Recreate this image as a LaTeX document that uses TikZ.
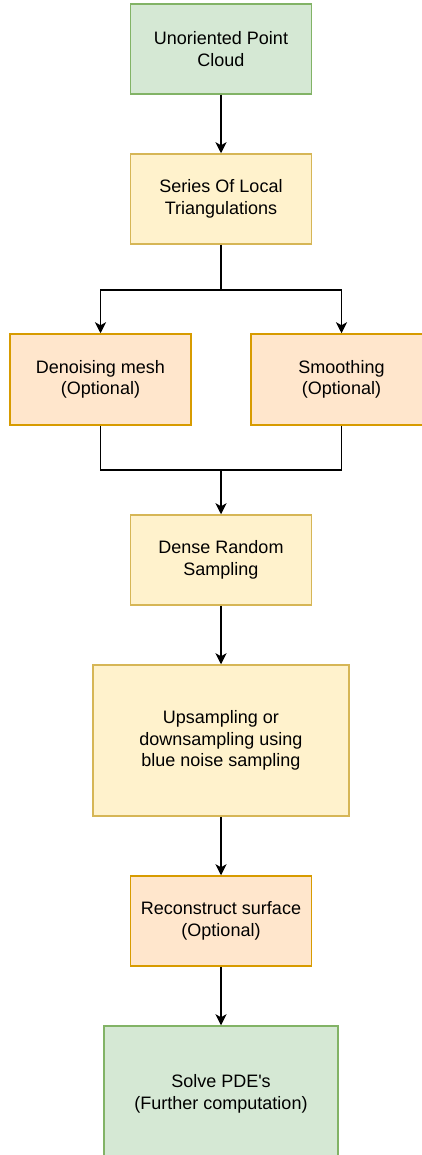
\documentclass[tikz,border=0pt]{standalone}
\usepackage{fontspec}
\setmainfont{Liberation Sans}
\usetikzlibrary{arrows.meta}
\definecolor{gfill}{HTML}{D5E8D4}\definecolor{gdraw}{HTML}{82B366}
\definecolor{yfill}{HTML}{FFF2CC}\definecolor{ydraw}{HTML}{D6B656}
\definecolor{ofill}{HTML}{FFE6CC}\definecolor{odraw}{HTML}{D79B00}
\begin{document}
\begin{tikzpicture}[x=1pt,y=-1pt,
  box/.style={rectangle, line width=1.5pt, align=center, inner sep=0pt,
    font=\fontsize{18}{21.6}\selectfont, text=black},
  green/.style={box, fill=gfill, draw=gdraw},
  yellow/.style={box, fill=yfill, draw=ydraw},
  orange/.style={box, fill=ofill, draw=odraw},
  conn/.style={line width=1.5pt, -{Stealth[length=11pt,width=11pt,inset=3pt]}},
  seg/.style={line width=1.5pt}]
\useasboundingbox (0,0) rectangle (422,1155);
\clip (0,0) rectangle (422,1155);
\node[green, minimum width=181pt, minimum height=90pt] (n1) at (221,49) {Unoriented Point\\Cloud};
\node[yellow, minimum width=181pt, minimum height=90pt] (n2) at (221,199) {Series Of Local\\Triangulations};
\node[orange, minimum width=181pt, minimum height=91pt] (n3) at (100.5,379.5) {Denoising mesh\\(Optional)};
\node[orange, minimum width=181pt, minimum height=91pt] (n4) at (341.5,379.5) {Smoothing\\(Optional)};
\node[yellow, minimum width=181pt, minimum height=90pt] (n5) at (221,560) {Dense Random\\Sampling};
\node[yellow, minimum width=256pt, minimum height=151pt] (n6) at (221,740.5) {Upsampling or\\downsampling using\\blue noise sampling};
\node[orange, minimum width=181pt, minimum height=90pt] (n7) at (221,921) {Reconstruct surface\\(Optional)};
\node[green, minimum width=234pt, minimum height=136pt] (n8) at (221,1094) {Solve PDE\textquotesingle s\\(Further computation)};
\coordinate (split) at (221,290);
\coordinate (join) at (221,470);
\draw[conn] (n1) -- (n2);
\draw[seg] (n2.south) -- (split);
\draw[conn] (split) -| (n3.north);
\draw[conn] (split) -| (n4.north);
\draw[seg] (n3.south) |- (join);
\draw[seg] (n4.south) |- (join);
\draw[conn] (join) -- (n5.north);
\draw[conn] (n5) -- (n6);
\draw[conn] (n6) -- (n7);
\draw[conn] (n7) -- (n8);
\end{tikzpicture}
\end{document}
